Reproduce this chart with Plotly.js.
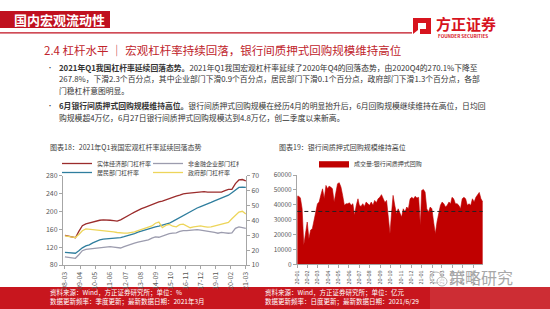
<!DOCTYPE html>
<html><head><meta charset="utf-8">
<script src="https://cdn.plot.ly/plotly-3.0.1.min.js"></script>
<style>html,body{margin:0;padding:0;background:#fff;}#chart{width:550px;height:309px;}</style>
</head><body><div id="chart"></div>
<script>
// ---------- data: chart 18 (quarterly, 2008Q1 .. 2021Q1) ----------
const firstQuarter = [2008, 3];
const seriesNames = ['实体经济部门杠杆率', '非金融企业部门杠杆率', '居民部门杠杆率', '政府部门杠杆率'];
const realEconomy = [146,144,142,141, 155,168,172,174, 177,178,180,181, 181,180,179,178,
  181,186,190,194, 198,203,206,209, 212,216,219,221, 223,226,228,231, 234,236,239,240,
  241,242,243,243, 244,243,243,242, 242,243,246,249, 249,262,270,271, 268];
const corporate = [98,97,96,95, 103,112,115,116, 116,117,118,120, 121,121,120,119,
  118,121,124,127, 129,131,133,134, 136,140,143,142, 145,148,150,151, 152,155,157,157,
  158,159,159,158, 157,156,155,153, 151,153,152,151, 152,162,165,163, 162];
const household = [18.5,18.3,18.0,17.9, 19.5,21.5,22.8,23.5, 24.8,26.0,26.8,27.3, 27.5,27.8,28.0,28.2,
  28.4,29.0,29.6,30.2, 31.0,32.0,32.8,33.5, 34.2,35.0,35.5,36.0, 36.5,37.2,38.0,39.2,
  40.5,42.0,43.5,44.8, 46.0,47.2,48.2,49.2, 50.0,51.0,52.0,53.0, 54.0,55.0,56.0,56.8,
  58.5,60.5,62.0,62.2, 62.1];
const government = [29.5,29.0,28.6,28.4, 30.5,33.0,34.2,34.0, 33.6,33.4,33.3,33.2, 33.0,32.6,32.2,31.8,
  31.5,31.4,31.4,31.6, 32.2,33.0,33.8,34.6, 35.3,36.2,38.0,38.8, 35.0,36.5,37.2,36.0,
  35.6,37.0,37.4,36.0, 35.0,35.5,36.0,36.2, 35.8,35.4,35.6,36.2, 36.8,37.5,38.2,38.6,
  41.0,43.5,45.5,46.0, 44.2];
const leftTicks = ['2008-03-01','2009-04-01','2010-05-01','2011-06-01','2012-07-01','2013-08-01',
  '2014-09-01','2015-10-01','2016-11-01','2017-12-01','2019-01-01','2020-02-01','2021-03-01'];

// ---------- data: chart 19 (bank repo volume, 亿元) ----------
const repoName = '成交量:银行间质押式回购';
const repoStart = '2020-01-02', repoEnd = '2021-06-29';
const repoValues = [45800,45800,44500,37300,13000,19700,28400,17200,23000,23900,30600,35100,40700,41800,
  46500,50700,44000,53000,50700,52500,51900,50700,41800,49600,54100,54800,51900,46300,39600,40700,
  40700,41300,39600,40700,32900,39600,44000,39600,38900,40700,38900,41800,40700,39600,41800,39600,
  42900,41300,44000,45000,46800,44000,41500,42900,32900,20500,32900,46300,39600,34000,37300,34000,
  31700,37300,35100,38500,37300,44000,45000,44000,45700,44500,45000,26200,49600,50300,48500,37300,
  35100,38500,37300,28400,20500,28400,35100,39600,41800,40700,38500,39600,41800,40700,45000,44000,
  40700,40700,39600,37300,44000,45000,44000,39600,40700,39600,44000,41800,45000,46800,48300,44000,42000];
const repoAverage = 35500;
const repoTicks = ['2020-01-01','2020-02-01','2020-03-01','2020-04-01','2020-05-01','2020-06-01',
  '2020-07-01','2020-08-01','2020-09-01','2020-10-01','2020-11-01','2020-12-01','2021-01-01',
  '2021-02-01','2021-03-01','2021-04-01','2021-05-01','2021-06-01'];

// ---------- derived x values ----------
const qDates = realEconomy.map((_, i) => {
  const m = firstQuarter[1] - 1 + 3 * i;
  const y = firstQuarter[0] + Math.floor(m / 12);
  const mm = (m % 12) + 1;
  return y + '-' + String(mm).padStart(2, '0') + '-01';
});
const t0 = Date.parse(repoStart), t1 = Date.parse(repoEnd);
const repoDates = repoValues.map((_, i) =>
  new Date(t0 + (t1 - t0) * i / (repoValues.length - 1)).toISOString().slice(0, 10));

// ---------- helpers ----------
const W = 550, H = 309;
const F = '"Noto Sans CJK SC", "Noto Sans", sans-serif';
const px = x => x / W, py = y => 1 - y / H;
function T(x, y, text, size, color, o) {
  return Object.assign({xref:'paper', yref:'paper', x:px(x), y:py(y), text:text, showarrow:false,
    xanchor:'left', yanchor:'middle', font:{family:F, size:size, color:color}}, o || {});
}
function R(x0, y0, x1, y1, color, o) {
  return Object.assign({type:'rect', xref:'paper', yref:'paper', x0:px(x0), x1:px(x1), y0:py(y1), y1:py(y0),
    fillcolor:color, line:{width:0}, layer:'below'}, o || {});
}
function P(pts, color) {
  const d = pts.map((p, i) => (i ? 'L' : 'M') + px(p[0]).toFixed(5) + ',' + py(p[1]).toFixed(5)).join(' ') + ' Z';
  return {type:'path', xref:'paper', yref:'paper', path:d, fillcolor:color, line:{width:0}};
}

const red = '#C8161E';
const txt = '#333333';
const axisGray = '#a6a6a6';
const tickGray = '#595959';

// ---------- traces ----------
const traces = [
  {x:qDates, y:realEconomy, name:seriesNames[0], type:'scatter', mode:'lines', line:{color:'#9B2C2C', width:1.3}, xaxis:'x', yaxis:'y', legend:'legend'},
  {x:qDates, y:corporate, name:seriesNames[1], type:'scatter', mode:'lines', line:{color:'#9C9CAE', width:1.3}, xaxis:'x', yaxis:'y', legend:'legend'},
  {x:qDates, y:household, name:seriesNames[2], type:'scatter', mode:'lines', line:{color:'#2F7E9E', width:1.3}, xaxis:'x', yaxis:'y2', legend:'legend2'},
  {x:qDates, y:government, name:seriesNames[3], type:'scatter', mode:'lines', line:{color:'#EDD55A', width:1.3}, xaxis:'x', yaxis:'y2', legend:'legend2'},
  {x:repoDates, y:repoValues, name:repoName, type:'scatter', mode:'lines', fill:'tozeroy', fillcolor:'#C00000',
    line:{color:'#C00000', width:0.6}, xaxis:'x2', yaxis:'y3', legend:'legend3'},
  {x:[repoDates[0], repoDates[repoDates.length - 1]], y:[repoAverage, repoAverage], type:'scatter', mode:'lines',
    line:{color:'#222222', width:1, dash:'4px,3px'}, xaxis:'x2', yaxis:'y3', showlegend:false, hoverinfo:'skip'}
];

const tickFont = {family:F, size:7, color:tickGray};
const legendBase = {orientation:'h', xanchor:'left', yanchor:'middle', bgcolor:'rgba(0,0,0,0)',
  font:{family:F, size:6, color:'#404040'}, itemwidth:30, entrywidthmode:'pixels', tracegroupgap:0, borderwidth:0};

const layout = {
  width:W, height:H, margin:{l:0, r:0, t:0, b:0}, paper_bgcolor:'#ffffff', plot_bgcolor:'rgba(0,0,0,0)',
  showlegend:true, font:{family:F},
  xaxis:{type:'date', domain:[px(63), px(246)], range:['2008-01-10','2021-03-06'], anchor:'y',
    tickvals:leftTicks, tickformat:'%y-%m', tickangle:-90, ticks:'outside', ticklen:3, tickcolor:axisGray,
    showline:true, linecolor:axisGray, linewidth:1, showgrid:false, zeroline:false, tickfont:tickFont},
  yaxis:{domain:[py(265), py(175.5)], range:[80, 280], dtick:40, anchor:'x', ticks:'outside', ticklen:3,
    tickcolor:axisGray, showline:true, linecolor:axisGray, showgrid:false, zeroline:false, tickfont:tickFont},
  yaxis2:{domain:[py(265), py(175.5)], range:[10, 70], dtick:10, anchor:'x', overlaying:'y', side:'right',
    ticks:'outside', ticklen:3, tickcolor:axisGray, showline:true, linecolor:axisGray, showgrid:false,
    zeroline:false, tickfont:tickFont},
  xaxis2:{type:'date', domain:[px(297), px(483)], range:['2020-01-01','2021-06-30'], anchor:'y3',
    tickvals:repoTicks, tickformat:'%y-%m', tickangle:-90, ticks:'outside', ticklen:3, tickcolor:axisGray,
    showline:true, linecolor:axisGray, showgrid:false, zeroline:false, tickfont:{family:F, size:5.5, color:tickGray}},
  yaxis3:{domain:[py(264.3), py(175)], range:[0, 60000], dtick:10000, tickformat:'d', anchor:'x2',
    ticks:'outside', ticklen:3, tickcolor:axisGray, showline:true, linecolor:axisGray, showgrid:false,
    zeroline:false, tickfont:{family:F, size:6.5, color:tickGray}},
  legend:Object.assign({}, legendBase, {x:px(57), y:py(163.5), entrywidth:46}),
  legend2:Object.assign({}, legendBase, {x:px(57), y:py(172.5), entrywidth:46}),
  legend3:Object.assign({}, legendBase, {x:px(314), y:py(163.5), entrywidth:80}),
  shapes:[
    R(0, 11, 110, 28, '#C0111F'),
    R(0, 32.3, 412, 33.6, '#C0111F'),
    P([[413,18],[431,18],[431,34],[420,34],[420,29],[426,29],[426,23],[418,23],[418,30],[413,34]], '#D7141E'),
    R(0, 287, 550, 309, red),
    R(430, 287, 550, 309, 'rgba(255,255,255,0.10)', {layer:'above'}),
    {type:'circle', xref:'paper', yref:'paper', x0:px(430), x1:px(442), y0:py(283), y1:py(272), line:{color:'#b5b5b5', width:1}, fillcolor:'rgba(0,0,0,0)'},
    {type:'circle', xref:'paper', yref:'paper', x0:px(437), x1:px(447), y0:py(286), y1:py(277), line:{color:'#b5b5b5', width:1}, fillcolor:'rgba(255,255,255,0.6)'}
  ],
  annotations:[
    T(12, 19.5, '<b>国内宏观流动性</b>', 13, '#ffffff'),
    T(434, 23.5, '<b>方正证券</b>', 15, '#D7141E'),
    T(436, 36.5, '<b>FOUNDER SECURITIES</b>', 4.6, '#D7141E'),
    T(42, 49.5, '2.4 杠杆水平 ｜ 宏观杠杆率持续回落，银行间质押式回购规模维持高位', 11.5, '#C0232B'),
    T(45, 67, '•', 6, txt),
    T(57, 67, '<b>2021年Q1我国杠杆率延续回落态势。</b>2021年Q1我国宏观杠杆率延续了2020年Q4的回落态势，由2020Q4的270.1%下降至', 7.8, txt),
    T(57, 78.5, '267.8%，下滑2.3个百分点，其中企业部门下滑0.9个百分点，居民部门下滑0.1个百分点，政府部门下滑1.3个百分点，各部', 7.8, txt),
    T(57, 90, '门稳杠杆意图明显。', 7.8, txt),
    T(45, 106, '•', 6, txt),
    T(57, 106, '<b>6月银行间质押式回购规模维持高位。</b>银行间质押式回购规模在经历4月的明显抬升后，6月回购规模继续维持在高位，日均回', 7.8, txt),
    T(57, 117.5, '购规模超4万亿，6月27日银行间质押式回购规模达到4.8万亿，创二季度以来新高。', 7.8, txt),
    T(48, 147, '图表18：2021年Q1我国宏观杠杆率延续回落态势', 7, '#404040'),
    T(277, 147, '图表19：银行间质押式回购规模维持高位', 7, '#404040'),
    T(447, 277, '策略研究', 16, '#a8a8a8'),
    T(48, 291.5, '资料来源：Wind，方正证券研究所；单位：%', 6.5, '#ffffff'),
    T(48, 300.5, '数据更新频率：季度更新；最新数据日期：2021年3月', 6.5, '#ffffff'),
    T(263, 291.5, '资料来源：Wind，方正证券研究所；单位：亿元', 6.5, '#ffffff'),
    T(263, 300.5, '数据更新频率：日度更新；最新数据日期：2021/6/29', 6.5, '#ffffff')
  ]
};

Plotly.newPlot('chart', traces, layout, {displayModeBar:false, staticPlot:true});
</script>
</body></html>
